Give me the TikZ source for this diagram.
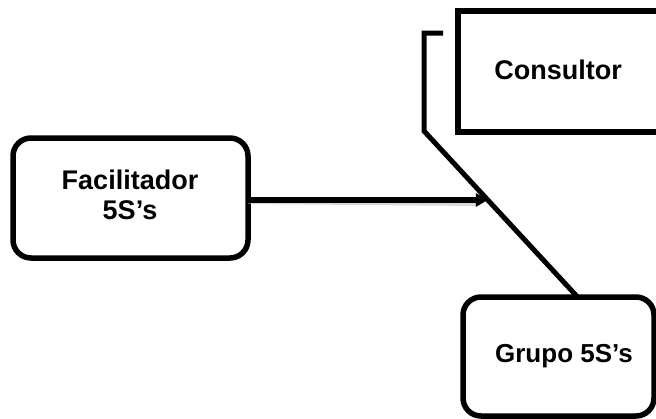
\documentclass[tikz,border=0pt]{standalone}
\usepackage{fontspec}
\setmainfont{Liberation Sans}
\usetikzlibrary{arrows.meta,calc}
\begin{document}
\begin{tikzpicture}[x=1pt,y=-1pt,
  roundbox/.style={draw=black,line width=5.5pt,rounded corners=18pt,inner sep=0pt,outer sep=0pt},
  sharpbox/.style={draw=black,line width=6pt,inner sep=0pt,outer sep=0pt},
  lbl/.style={font=\bfseries\fontsize{27}{30}\selectfont,align=center,inner sep=0pt},
  link/.style={line width=5pt},
  flow/.style={line width=5.5pt,-{Triangle[length=12pt,width=13pt]}},
  flowshadow/.style={line width=5pt,draw=black!30,opacity=0.5},
]
\useasboundingbox (0,0) rectangle (656,418);
\clip (0,0) rectangle (656,418);

% boxes
\node[roundbox,minimum width=235pt,minimum height=120pt] (fac) at (130.5,198) {};
\node[sharpbox,minimum width=206pt,minimum height=121pt] (con) at (561,71) {};
\node[roundbox,minimum width=191pt,minimum height=119pt] (grp) at (558.5,356.5) {};

% labels
\node[lbl] (factext) at (130,195) {Facilitador\\5S’s};
\node[lbl] (context) at (558,69.5) {Consultor};
\node[lbl,font=\bfseries\fontsize{26}{30}\selectfont] (grptext) at (564,356) {Grupo 5S’s};

% bracket running down to the group box
\coordinate (bt) at (443,33);
\coordinate (bc) at (424,33);
\coordinate (bk) at (424,131);
\coordinate (ge) at (578,297.5);
\draw[link] (bt) -- (bc) -- (bk) -- (ge);

% arrow from the facilitator onto the diagonal
\coordinate (hit) at ($(bk)!{(200-131)/(297.5-131)}!(ge)$);
\draw[flowshadow] ($(fac.east)+(0,3.5)$) -- ($(hit)+(-10,3.5)$);
\draw[flow] (fac.east |- hit) -- (hit);
\end{tikzpicture}
\end{document}
